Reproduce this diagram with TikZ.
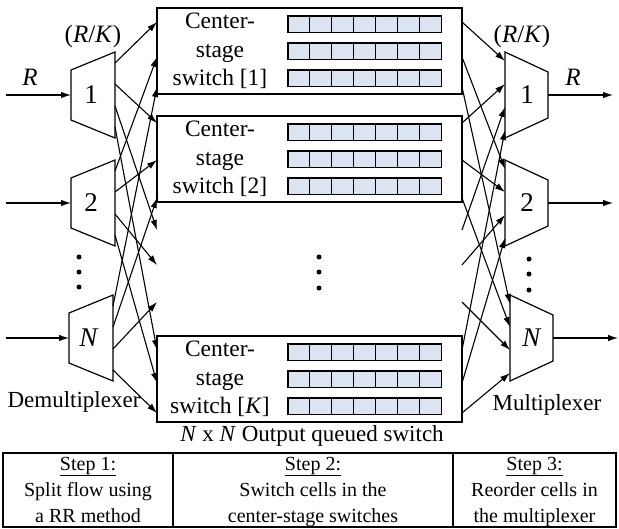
\documentclass[tikz,border=0pt]{standalone}
\usepackage{fontspec}
\setmainfont{Liberation Serif}
\usetikzlibrary{arrows.meta}
\definecolor{cellfill}{RGB}{220,228,242}
\begin{document}
\begin{tikzpicture}[x=1pt,y=-1pt,
  every node/.style={inner sep=0pt, outer sep=0pt},
  conn/.style={line width=1.1pt,-{Latex[length=10pt,width=6.5pt]}},
  plain/.style={line width=1.2pt},
  swbox/.style={draw, line width=1.4pt, minimum width=305pt, minimum height=86pt},
  cell/.style={draw, line width=1.1pt, fill=cellfill, minimum width=21.9pt, minimum height=16.5pt, anchor=north west},
  swtext/.style={font=\fontsize{23.5}{28}\selectfont, anchor=base},
  lbl/.style={font=\fontsize{25}{30}\selectfont, anchor=base},
  sidetext/.style={font=\fontsize{23}{28}\selectfont, anchor=base},
  num/.style={font=\fontsize{27}{32}\selectfont},
  tabtext/.style={font=\fontsize{20}{24}\selectfont, anchor=base},
  dotmark/.style={circle, fill, minimum size=5pt}]
\useasboundingbox (0,0) rectangle (619,528);

% center-stage switches
\foreach \n/\tp/\lab in {1/8/1, 2/116/2, K/336/{\textit{K}}} {
  \node[swbox] (sw\n) at (309.5, \tp+43) {};
  \node[swtext] (sw\n-a) at (220, \tp+20) {Center-};
  \node[swtext] (sw\n-b) at (220, \tp+49) {stage};
  \node[swtext] (sw\n-c) at (220, \tp+77) {switch [\lab]};
  \foreach \r/\ry in {1/8, 2/35, 3/62} {
    \foreach \c in {1,...,7} {
      \node[cell] (sw\n-r\r-c\c) at ({288+(\c-1)*21.9}, \tp+\ry) {};
    }
  }
}
\node[dotmark] (cd1) at (319,257) {};
\node[dotmark] (cd2) at (319,272) {};
\node[dotmark] (cd3) at (319,288) {};

% ports on switch edges (left: inputs, right: outputs)
\foreach \j/\ya/\yb/\yc in {1/22/57/87, 2/123/160/198, g/230/265/302, K/350/383/413} {
  \coordinate (swL-\j-1) at (157,\ya);
  \coordinate (swL-\j-2) at (157,\yb);
  \coordinate (swL-\j-N) at (157,\yc);
  \coordinate (swR-\j-1) at (462,\ya);
  \coordinate (swR-\j-2) at (462,\yb);
  \coordinate (swR-\j-N) at (462,\yc);
}

% demultiplexers
\foreach \i/\cy/\xl/\lab in {1/95/71/1, 2/203/71/2, N/338/69/{\textit{N}}} {
  \draw[plain] (\xl,\cy-25) -- (\xl+44,\cy-43) -- (\xl+44,\cy+43) -- (\xl,\cy+25) -- cycle;
  \node[num] (dm\i) at (\xl+20,\cy) {\lab};
  \coordinate (dm\i-in) at (\xl,\cy);
  \coordinate (src\i) at (6,\cy);
  \coordinate (dm\i-o1) at (\xl+44,\cy-32);
  \coordinate (dm\i-o2) at (\xl+44,\cy-11);
  \coordinate (dm\i-o3) at (\xl+44,\cy+11);
  \coordinate (dm\i-o4) at (\xl+44,\cy+32);
  \draw[conn] (src\i) -- (dm\i-in);
}
\node[dotmark] (ld1) at (79,257) {};
\node[dotmark] (ld2) at (79,272) {};
\node[dotmark] (ld3) at (79,287) {};

% multiplexers
\foreach \i/\cy/\xl/\lab in {1/95/505/1, 2/203/505/2, N/338/510/{\textit{N}}} {
  \draw[plain] (\xl,\cy-43) -- (\xl+43,\cy-23) -- (\xl+43,\cy+23) -- (\xl,\cy+43) -- cycle;
  \node[num] (mx\i) at (\xl+22,\cy) {\lab};
  \coordinate (mx\i-out) at (\xl+43,\cy);
  \coordinate (dst\i) at (\xl+108,\cy);
  \coordinate (mx\i-i1) at (\xl,\cy-34);
  \coordinate (mx\i-i2) at (\xl,\cy-11);
  \coordinate (mx\i-i3) at (\xl,\cy+12);
  \coordinate (mx\i-i4) at (\xl,\cy+35);
  \draw[conn] (mx\i-out) -- (dst\i);
}
\node[dotmark] (rd1) at (529,259) {};
\node[dotmark] (rd2) at (529,274) {};
\node[dotmark] (rd3) at (529,290) {};

% connectors
\foreach \i in {1,2,N} {
  \foreach \j/\k in {1/1, 2/2, g/3, K/4} {
    \draw[conn] (dm\i-o\k) -- (swL-\j-\i);
    \draw[conn] (swR-\j-\i) -- (mx\i-i\k);
  }
}

% labels
\node[lbl] (rl) at (30,85) {\textit{R}};
\node[lbl] (rkl) at (93,42) {(\textit{R}/\textit{K})};
\node[lbl] (rr) at (573,85) {\textit{R}};
\node[lbl] (rkr) at (522,42) {(\textit{R}/\textit{K})};
\node[sidetext] (demux) at (74,407) {Demultiplexer};
\node[sidetext] (mux) at (547,410) {Multiplexer};
\node[sidetext] (cap) at (312,441) {\textit{N} x \textit{N} Output queued switch};

% table
\draw[plain] (3,453) rectangle (616,527);
\draw[plain] (173,453) -- (173,527);
\draw[plain] (453,453) -- (453,527);
\node[tabtext] (t1a) at (88,470) {\underline{Step 1:}};
\node[tabtext] (t1b) at (88,496) {Split flow using};
\node[tabtext] (t1c) at (88,522) {a RR method};
\node[tabtext] (t2a) at (313,470) {\underline{Step 2:}};
\node[tabtext] (t2b) at (313,496) {Switch cells in the};
\node[tabtext] (t2c) at (313,522) {center-stage switches};
\node[tabtext] (t3a) at (534.5,470) {\underline{Step 3:}};
\node[tabtext] (t3b) at (534.5,496) {Reorder cells in};
\node[tabtext] (t3c) at (534.5,522) {the multiplexer};
\end{tikzpicture}
\end{document}
